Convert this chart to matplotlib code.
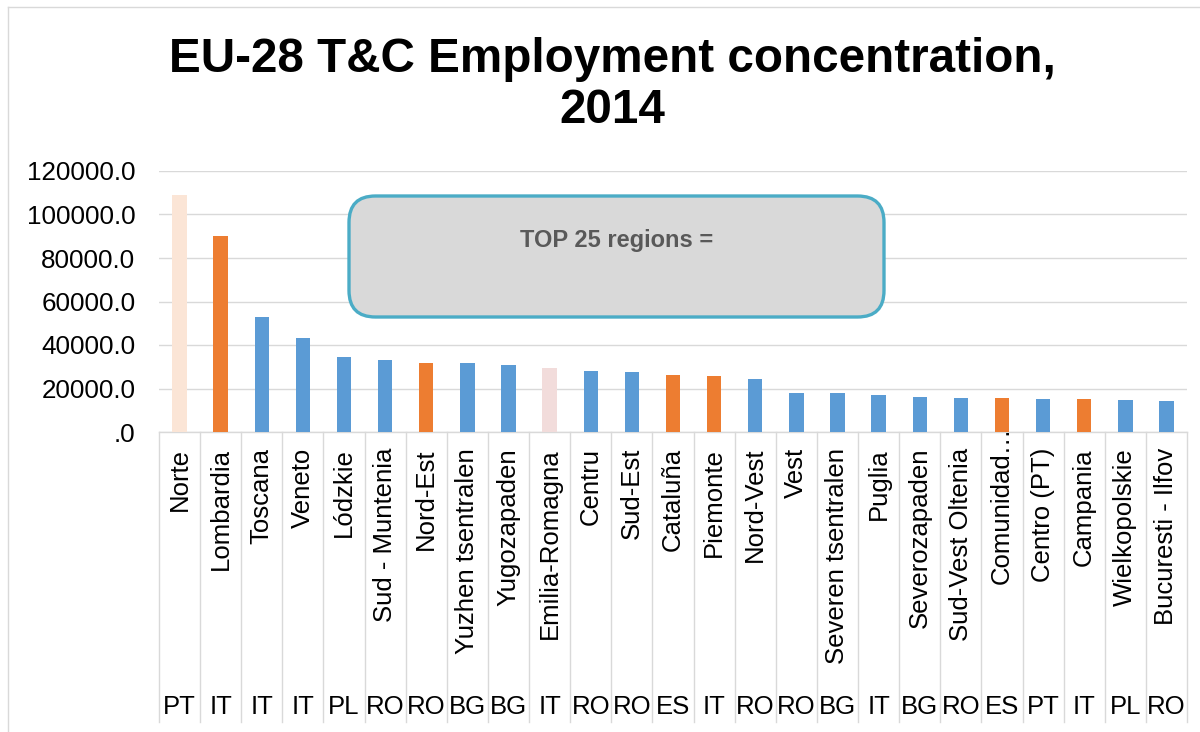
import matplotlib
matplotlib.use("Agg")
import matplotlib.pyplot as plt
from matplotlib.patches import FancyBboxPatch
from matplotlib.lines import Line2D
from matplotlib.ticker import FuncFormatter

plt.rcParams['font.family'] = ['Liberation Sans', 'DejaVu Sans']

regions = ["Norte", "Lombardia", "Toscana", "Veneto", "Lódzkie", "Sud - Muntenia",
           "Nord-Est", "Yuzhen tsentralen", "Yugozapaden", "Emilia-Romagna", "Centru",
           "Sud-Est", "Cataluña", "Piemonte", "Nord-Vest", "Vest", "Severen tsentralen",
           "Puglia", "Severozapaden", "Sud-Vest Oltenia", "Comunidad…", "Centro (PT)",
           "Campania", "Wielkopolskie", "Bucuresti - Ilfov"]
countries = ["PT", "IT", "IT", "IT", "PL", "RO", "RO", "BG", "BG", "IT", "RO", "RO",
             "ES", "IT", "RO", "RO", "BG", "IT", "BG", "RO", "ES", "PT", "IT", "PL", "RO"]
employment = [109000, 90100, 52700, 43200, 34600, 33000, 31700, 31800, 30800, 29400,
              27900, 27400, 26200, 25700, 24200, 17900, 17800, 16900, 16200, 15800,
              15600, 15000, 15200, 14700, 14300]
bar_colors = ["#FBE5D6", "#ED7D31", "#5B9BD5", "#5B9BD5", "#5B9BD5", "#5B9BD5",
              "#ED7D31", "#5B9BD5", "#5B9BD5", "#F2DCDB", "#5B9BD5", "#5B9BD5",
              "#ED7D31", "#ED7D31", "#5B9BD5", "#5B9BD5", "#5B9BD5", "#5B9BD5",
              "#5B9BD5", "#5B9BD5", "#ED7D31", "#5B9BD5", "#ED7D31", "#5B9BD5", "#5B9BD5"]
y_ticks = [0, 20000, 40000, 60000, 80000, 100000, 120000]

W, H = 1200, 732
fig = plt.figure(figsize=(W / 100, H / 100), dpi=100)

# axes geometry (pixels)
left, right, y0, ytop = 159, 1187, 432, 171
ax = fig.add_axes([left / W, 1 - y0 / H, (right - left) / W, (y0 - ytop) / H])

n = len(regions)
x = list(range(n))
ax.bar(x, employment, width=0.35, color=bar_colors, zorder=3)
ax.set_xlim(-0.5, n - 0.5)
ax.set_ylim(0, 120000)
ax.set_yticks(y_ticks)
ax.yaxis.set_major_formatter(FuncFormatter(lambda v, p: ".0" if v == 0 else f"{v:.1f}"))
ax.tick_params(axis='y', length=0, pad=17, labelsize=18.7, labelcolor='black')
ax.set_xticks([])
ax.grid(axis='y', color='#D9D9D9', linewidth=1.0, zorder=0)
for s in ['left', 'right', 'top']:
    ax.spines[s].set_visible(False)
ax.spines['bottom'].set_color('#D9D9D9')
ax.spines['bottom'].set_linewidth(1.0)

axh = y0 - ytop
trans = ax.get_xaxis_transform()
# category separators
for i in range(n + 1):
    ax.plot([i - 0.5, i - 0.5], [0, -(722 - y0) / axh], transform=trans,
            color='#D9D9D9', lw=1.0, clip_on=False, zorder=1)
# region labels
for i, name in enumerate(regions):
    top = 448 if not name.endswith("…") else 426
    ax.text(i, -(top - y0) / axh, name, transform=trans, rotation=90,
            ha='center', va='top', fontsize=18.5, color='black', clip_on=False)
# country labels
for i, c in enumerate(countries):
    ax.text(i, -(714 - y0) / axh, c, transform=trans, ha='center', va='baseline',
            fontsize=18.5, color='black', clip_on=False)

# title
fig.text(612 / W, 1 - 85 / H, "EU-28 T&C Employment concentration,\n2014",
         ha='center', va='center', fontsize=34.3, fontweight='bold', linespacing=1.16)

# text box
bx0, bx1, by0, by1 = 349, 884, 196, 317
box = FancyBboxPatch((bx0 / W, 1 - by1 / H), (bx1 - bx0) / W, (by1 - by0) / H,
                     boxstyle="round,pad=0,rounding_size=0.022",
                     transform=fig.transFigure, facecolor='#D9D9D9',
                     edgecolor='#4BACC6', linewidth=2.4, zorder=5,
                     mutation_aspect=W / H)
fig.add_artist(box)
fig.text(617 / W, 1 - 241 / H, "TOP 25 regions =", ha='center', va='center',
         fontsize=17, fontweight='bold', color='#595959', zorder=6)

# chart frame
fig.add_artist(Line2D([8 / W, 8 / W], [0, 1 - 7 / H], color='#D9D9D9', lw=1.0,
                      transform=fig.transFigure))
fig.add_artist(Line2D([8 / W, 1], [1 - 7 / H, 1 - 7 / H], color='#D9D9D9', lw=1.0,
                      transform=fig.transFigure))

fig.savefig("out.png", dpi=100)
